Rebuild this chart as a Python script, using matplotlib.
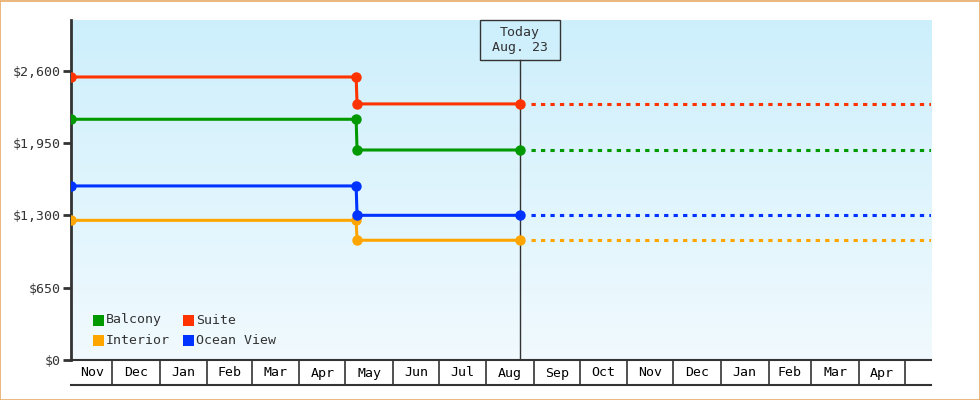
import matplotlib
matplotlib.use("Agg")
import matplotlib.pyplot as plt
import matplotlib.dates as mdates
from matplotlib.lines import Line2D
from matplotlib.patches import Rectangle
import numpy as np
from datetime import date

# DATA
series_names = ["Balcony", "Suite", "Interior", "Ocean View"]
series_colors = ["#009900", "#ff3300", "#ffa500", "#0033ff"]
old_prices = [2163, 2543, 1255, 1564]
new_prices = [1887, 2301, 1076, 1300]

start_day = date(2023, 11, 4)
change_day = date(2024, 5, 8)
today = date(2024, 8, 23)
end_day = date(2025, 5, 18)

y_ticks = [0, 650, 1300, 1950, 2600]
y_max = 3055
month_labels = ["Nov", "Dec", "Jan", "Feb", "Mar", "Apr", "May", "Jun", "Jul",
                "Aug", "Sep", "Oct", "Nov", "Dec", "Jan", "Feb", "Mar", "Apr"]

FONT = "DejaVu Sans Mono"
FS = 9.5
DARK = "#333333"

fig = plt.figure(figsize=(9.8, 4), dpi=100)
ax = fig.add_axes([71 / 980, 40 / 400, 860 / 980, 340 / 400])

# pixel helpers (axes fractions)
def ax_x(px):
    return (px - 71) / 860

def ax_y(py):
    return (360 - py) / 340

# gradient background
grad = np.linspace(0, 1, 256).reshape(-1, 1)
top = np.array([205, 239, 252]) / 255
bot = np.array([241, 250, 254]) / 255
img = top + (bot - top) * grad[:, :, None]
ax.imshow(img, extent=[0, 1, 0, 1], transform=ax.transAxes, aspect="auto", zorder=0)

d0 = mdates.date2num(start_day)
d1 = mdates.date2num(end_day)
dc = mdates.date2num(change_day)
dt = mdates.date2num(today)

for name, col, p_old, p_new in zip(series_names, series_colors, old_prices, new_prices):
    xs = [d0, dc, dc + 0.6, dt]
    ys = [p_old, p_old, p_new, p_new]
    ax.plot(xs, ys, color=col, lw=2.2, marker="o", ms=6.5, zorder=3)
    ax.plot([dt + 7, d1], [p_new, p_new], color=col, lw=2.2, dashes=(1.4, 1.7), zorder=3)

ax.set_xlim(d0, d1)
ax.set_ylim(0, y_max)

# today marker
trans = ax.get_xaxis_transform()
ax.plot([dt, dt], [0, ax_y(60)], transform=trans, color=DARK, lw=1, zorder=2)
ax.add_patch(Rectangle((dt - 26, ax_y(60)), 52, ax_y(20) - ax_y(60), transform=trans,
                       fill=False, ec=DARK, lw=1, zorder=4, clip_on=False))
ax.text(dt, ax_y(40), "Today\nAug. 23", transform=trans, ha="center", va="center",
        fontsize=FS, family=FONT, color=DARK, linespacing=1.25, zorder=4)

# y axis
ax.set_yticks(y_ticks)
ax.set_yticklabels(["${:,}".format(v) for v in y_ticks], family=FONT, fontsize=FS, color=DARK)
ax.tick_params(axis="y", length=6, width=2, color=DARK, pad=1.5)
ax.set_xticks([])
for s in ["top", "right"]:
    ax.spines[s].set_visible(False)
ax.spines["left"].set_color(DARK)
ax.spines["left"].set_linewidth(2)
ax.spines["bottom"].set_color(DARK)
ax.spines["bottom"].set_linewidth(1.5)

# month cells under the axis
cell_h = 25 / 340
month_starts = []
m = date(start_day.year, start_day.month, 1)
while m <= end_day:
    month_starts.append(m)
    m = date(m.year + (m.month == 12), m.month % 12 + 1, 1)
edges = [d0] + [mdates.date2num(s) for s in month_starts[1:]] + [d1]
for e in edges[1:-1]:
    ax.add_line(Line2D([e, e], [0, -cell_h], transform=trans, color=DARK, lw=1.2, clip_on=False))
for i, lab in enumerate(month_labels):
    mid = (edges[i] + edges[i + 1]) / 2
    ax.text(mid, ax_y(373), lab, transform=trans, ha="center", va="center",
            family=FONT, fontsize=FS, color="black")
ax.add_line(Line2D([0, 1], [-cell_h, -cell_h], transform=ax.transAxes, color=DARK, lw=1.5, clip_on=False))

# legend, drawn by hand in two rows
leg_x = [93, 183]
leg_y = [320, 340]
for i, (name, col) in enumerate(zip(series_names, series_colors)):
    px = leg_x[i % 2]
    py = leg_y[i // 2]
    ax.add_patch(Rectangle((ax_x(px), ax_y(py + 5.5)), 11 / 860, 11 / 340,
                           transform=ax.transAxes, fc=col, ec="none", zorder=4))
    ax.text(ax_x(px + 13), ax_y(py), name, transform=ax.transAxes, ha="left", va="center",
            family=FONT, fontsize=FS, color=DARK, zorder=4)

# figure border
fig.patches.append(Rectangle((0.0005, 0.001), 0.999, 0.997, transform=fig.transFigure,
                             fill=False, ec="#e8aa66", lw=1.2))

fig.savefig("out.png", dpi=100)
